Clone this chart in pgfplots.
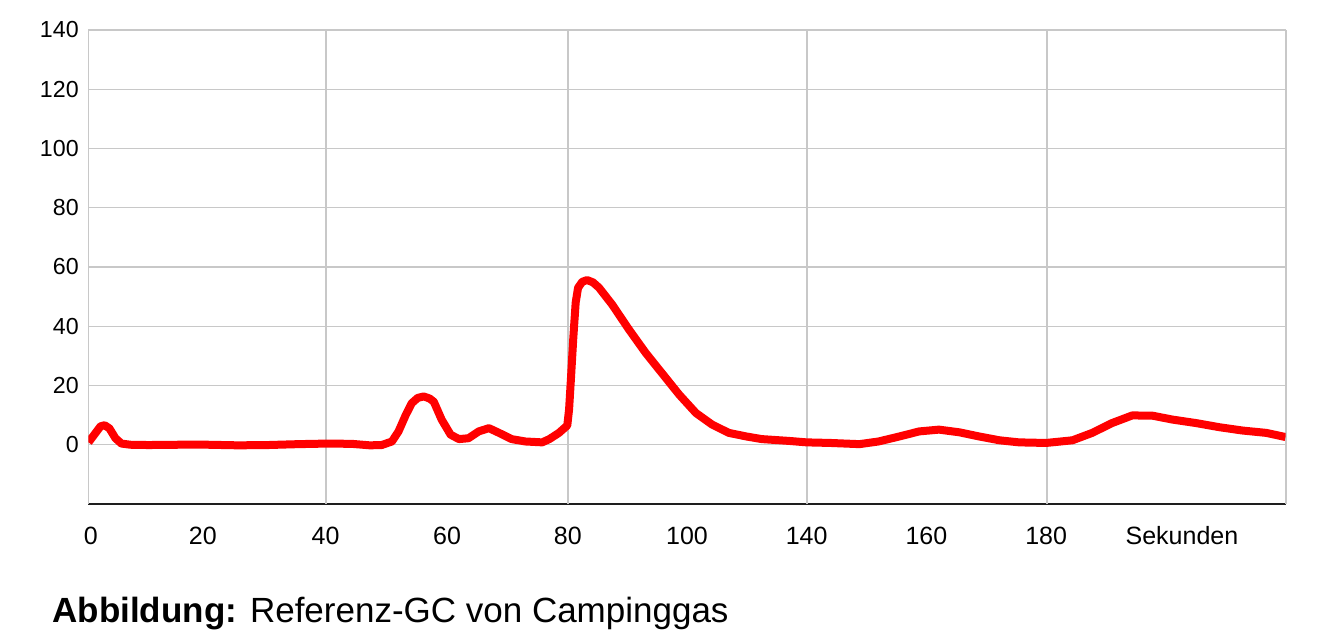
\documentclass[border=0pt]{standalone}
\usepackage{pgfplots}
\pgfplotsset{compat=1.18}
\usepackage{fontspec}
\setmainfont{Liberation Sans}
\definecolor{gridgray}{RGB}{200,200,200}
\definecolor{axisdark}{RGB}{30,30,30}
\begin{document}
\begin{tikzpicture}
\useasboundingbox (0,0) rectangle (666.5pt,320.5pt);
\begin{axis}[
  at={(44.25pt,68.5pt)}, anchor=south west,
  scale only axis, width=598.5pt, height=237pt,
  xmin=0, xmax=200, ymin=-20, ymax=140,
  axis lines=left,
  axis line style={-},
  separate axis lines,
  x axis line style={axisdark, line width=0.6pt},
  y axis line style={gridgray, line width=0.6pt},
  xtick={0.37,19.1,39.6,59.9,80.1,100,120,140,160,182.7},
  xticklabels={0,20,40,60,80,100,140,160,180,Sekunden},
  ytick={0,20,...,140},
  major tick length=0pt,
  ymajorgrids=true,
  xmajorgrids=false,
  major grid style={gridgray, line width=0.6pt},
  extra x ticks={39.7,80.1,120,160.1,200},
  extra x tick labels={},
  extra x tick style={xmajorgrids=true, major grid style={gridgray, line width=1pt}, xticklabel style={opacity=0}},
  /pgf/number format/assume math mode=true,
  xticklabel style={anchor=base, inner sep=0pt, yshift=-20.5pt, font=\fontsize{12.5}{14}\selectfont},
  yticklabel style={anchor=east, inner sep=0pt, xshift=-4.7pt, font=\fontsize{11.6}{13}\selectfont},
]
\addplot[color={rgb,255:red,255;green,0;blue,0}, line width=4pt, line join=round, line cap=butt] coordinates {
(0,0.8) (1,3.5) (2,6.2) (2.7,6.6) (3.5,5.5) (4.5,2.2) (5.5,0.4) (7,0)
(10,-0.1) (15,0) (20,0) (25,-0.2) (30,-0.1) (35,0.2) (40,0.4) (44,0.3)
(47,-0.2) (49,-0.1) (50.7,1.1) (51.8,4.5) (53,10) (54,14) (55,15.8) (56,16.3)
(57,15.6) (57.7,14.5) (59,8.5) (60.5,3.4) (61.9,1.9) (63.5,2.2) (65.2,4.5)
(66.9,5.6) (68.6,4) (70.7,1.9) (73,1.1) (75.8,0.8) (77,1.9) (78.6,4) (80,6.5)
(80.3,12) (80.6,22) (81,36) (81.4,48) (81.8,53) (82.5,55) (83.3,55.6) (84.3,54.8)
(85.3,53) (87.5,47.3) (90.3,38.9) (93.1,31) (95.8,24.2) (98.7,16.9) (101.5,10.7)
(104.2,6.8) (107,4) (109.9,2.8) (112.5,1.9) (117,1.3) (120,0.8) (124,0.6)
(128.8,0.2) (132,1.1) (135.5,2.8) (138.8,4.5) (142.1,5.1) (145.5,4.2) (148.8,2.8)
(152.2,1.5) (155.5,0.8) (160,0.6) (164.4,1.5) (167.7,4) (171,7.3) (174.4,9.9)
(177.8,9.8) (181.1,8.5) (185.1,7.3) (189,5.9) (192.8,4.8) (196.8,4) (200,2.6)
};
\end{axis}
\node[anchor=base west, inner sep=0pt, font=\fontsize{17.5}{21}\selectfont] at (26pt,9pt) {\textbf{Abbildung:} Referenz-GC von Campinggas};
\end{tikzpicture}
\end{document}
